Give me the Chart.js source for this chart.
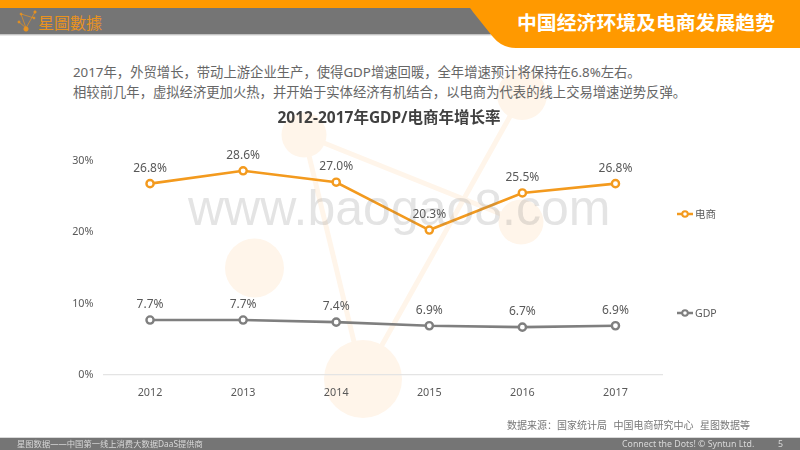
<!DOCTYPE html>
<html><head><meta charset="utf-8">
<script src="https://cdn.jsdelivr.net/npm/chart.js@4"></script>
<style>
html,body{margin:0;padding:0;background:#fff;width:800px;height:450px;overflow:hidden}
body{position:relative;font-family:"Noto Sans","Noto Sans CJK SC",sans-serif}
.a{position:absolute;white-space:pre;line-height:1}
svg{position:absolute;left:0;top:0}
canvas{position:absolute;left:0;top:0}
</style></head><body>
<svg width="800" height="450" viewBox="0 0 800 450">
  <g stroke="#fff5ea" stroke-width="5" fill="#fff5ea">
    <line x1="522" y1="95" x2="363" y2="379"/><line x1="304" y1="135" x2="363" y2="379"/><line x1="304" y1="135" x2="521" y2="222"/>
    <circle cx="522" cy="95" r="25" stroke="none"/><circle cx="304" cy="135" r="22.5" stroke="none"/>
    <circle cx="254.5" cy="268" r="29.5" stroke="none"/><circle cx="521" cy="222" r="22.5" stroke="none"/><circle cx="363" cy="379" r="39" stroke="none"/>
  </g>
  <rect x="0" y="8" width="800" height="26.5" fill="#757575"/>
  <rect x="0" y="34.5" width="800" height="1" fill="#cfcfcf"/>
  <rect x="0" y="0" width="800" height="8" fill="#ff9900"/>
  <path d="M470 8 H800 V48 H516 Q502 48 493 37 L473 12 Q471 9 470 8Z" fill="#ff9900"/>
  <rect x="0" y="437" width="800" height="1" fill="#d9d9d9"/>
  <rect x="0" y="438" width="800" height="12" fill="#757575"/>
  <g stroke="#e8921f" stroke-width=".7" fill="#e8921f">
    <line x1="26" y1="28" x2="21" y2="14"/><line x1="26" y1="28" x2="35" y2="12"/><line x1="21" y1="14" x2="34" y2="18"/><line x1="26" y1="28" x2="19" y2="22"/>
    <circle cx="26" cy="29" r="2.2"/><circle cx="21" cy="14" r="1"/><circle cx="35" cy="12" r="1.2"/><circle cx="34" cy="18" r="1"/><circle cx="19" cy="22" r="1.1"/>
  </g>
</svg>
<div class="a" style="left:38px;top:14px;font-size:16px;color:#e8921f;font-family:'Noto Sans CJK TC'">星圖數據</div>
<div class="a" style="left:517px;top:12px;font-size:19.85px;font-weight:700;color:#fff;font-family:'Noto Sans CJK SC'">中国经济环境及电商发展趋势</div>
<div class="a" style="left:73px;top:66px;font-size:13.33px;color:#666;font-family:'Noto Sans','Noto Sans CJK SC'">2017年，外贸增长，带动上游企业生产，使得GDP增速回暖，全年增速预计将保持在6.8%左右。</div>
<div class="a" style="left:73px;top:86px;font-size:13.33px;color:#666;font-family:'Noto Sans','Noto Sans CJK SC'">相较前几年，虚拟经济更加火热，并开始于实体经济有机结合，以电商为代表的线上交易增速逆势反弹。</div>
<canvas id="c" width="800" height="450"></canvas>
<div class="a" style="left:188px;top:183px;font-size:50px;color:rgba(120,120,120,.2);font-family:'Liberation Sans'">www.baogao8.com</div>
<div class="a" style="left:507px;top:420px;font-size:10px;word-spacing:1px;color:#777;font-family:'Noto Sans CJK SC'">数据来源：国家统计局  中国电商研究中心  星图数据等</div>
<div class="a" style="left:17px;top:439.5px;font-size:8.3px;color:#d8d8d8;font-family:'Noto Sans','Noto Sans CJK SC'">星图数据——中国第一线上消费大数据DaaS提供商</div>
<div class="a" style="left:622px;top:439.5px;font-size:8.8px;color:#d8d8d8;font-family:'Noto Sans'">Connect the Dots! © Syntun Ltd.</div>
<div class="a" style="left:778px;top:439.5px;font-size:8.8px;color:#d8d8d8;font-family:'Noto Sans'">5</div>
<script>
const categories = ['2012','2013','2014','2015','2016','2017'];
const ecommerce = [26.8,28.6,27.0,20.3,25.5,26.8];
const gdp = [7.7,7.7,7.4,6.9,6.7,6.9];
const yTicks = [0,10,20,30];
const FONT = '"Noto Sans","Noto Sans CJK SC",sans-serif';
const legendSpots = [214,313];

const decor = {
  id:'decor',
  afterLayout(c){ c.titleBlock.left=0; c.titleBlock.right=778; },
  afterDatasetsDraw(c){
    const x=c.ctx; x.save();
    x.font='12px '+FONT; x.fillStyle='#595959'; x.textAlign='center'; x.textBaseline='middle';
    c.data.datasets.forEach((d,i)=>{
      c.getDatasetMeta(i).data.forEach((p,j)=>x.fillText(d.data[j].toFixed(1)+'%',p.x,p.y-15.5));
    });
    c.data.datasets.forEach((d,i)=>{
      const y=legendSpots[i];
      x.strokeStyle=d.borderColor; x.lineWidth=2.5;
      x.beginPath(); x.moveTo(677,y); x.lineTo(693,y); x.stroke();
      x.beginPath(); x.arc(685,y,2.8,0,Math.PI*2); x.fillStyle='#fff'; x.fill(); x.lineWidth=2; x.stroke();
      x.fillStyle='#595959'; x.font='10.5px '+FONT; x.textAlign='left';
      x.fillText(d.label,695,y+1);
    });
    x.restore();
  }
};
new Chart(document.getElementById('c'),{
  type:'line',
  data:{labels:categories,datasets:[
    {label:'电商',data:ecommerce,borderColor:'#f39a1e',backgroundColor:'#fff',borderWidth:2.6,pointRadius:3.6,pointBorderWidth:2.4,pointBackgroundColor:'#fff',pointBorderColor:'#f39a1e',tension:0},
    {label:'GDP',data:gdp,borderColor:'#7f7f7f',backgroundColor:'#fff',borderWidth:2.6,pointRadius:3.6,pointBorderWidth:2.4,pointBackgroundColor:'#fff',pointBorderColor:'#7f7f7f',tension:0}
  ]},
  plugins:[decor],
  options:{
    responsive:false,animation:false,
    layout:{padding:{left:0,right:138,top:109,bottom:35}},
    plugins:{
      legend:{display:false},tooltip:{enabled:false},
      title:{display:true,text:'2012-2017年GDP/电商年增长率',color:'#404040',font:{family:FONT,size:15.5,weight:'bold'},padding:{top:0,bottom:33.2}}
    },
    scales:{
      x:{offset:true,grid:{display:false,drawTicks:false},border:{color:'#e4e4e4',width:1.2},ticks:{color:'#595959',font:{family:FONT,size:10.8},padding:11,maxRotation:0},afterFit(s){s.height=40;}},
      y:{min:0,max:30,afterBuildTicks(s){s.ticks=yTicks.map(v=>({value:v}));},grid:{display:false,drawTicks:false},border:{display:false},ticks:{color:'#595959',font:{family:FONT,size:10.8},padding:10,callback:v=>v+'%'},afterFit(s){s.width=103.5;}}
    }
  }
});
</script>
</body></html>
